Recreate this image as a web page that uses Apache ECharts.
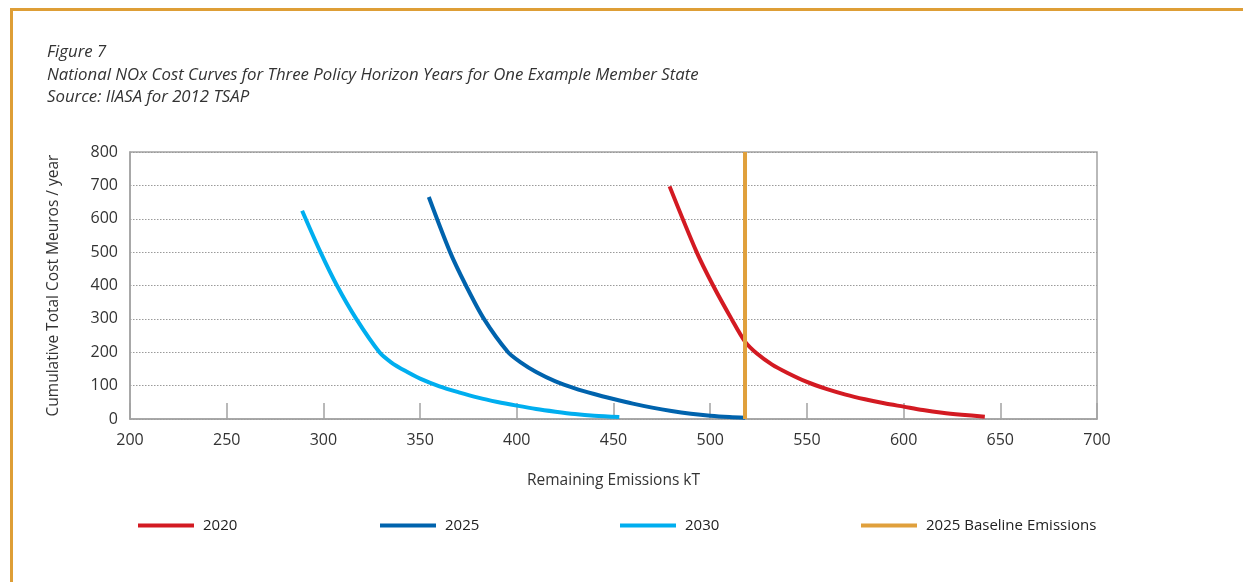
<!DOCTYPE html>
<html>
<head>
<meta charset="utf-8">
<script src="https://cdn.jsdelivr.net/npm/echarts@6/dist/echarts.min.js"></script>
<style>
html,body{margin:0;padding:0;background:#fff;}
#chart{width:1243px;height:582px;}
</style>
</head>
<body>
<div id="chart"></div>
<script>
// ---- data ----
const titleLines = [
  'Figure 7',
  'National NOx Cost Curves for Three Policy Horizon Years for One Example Member State',
  'Source: IIASA for 2012 TSAP'
];
const seriesNames = ['2020', '2025', '2030', '2025 Baseline Emissions'];

const emissions2020 = [479, 493, 501.5, 511, 518, 524, 532, 540, 550, 560, 570, 580, 590, 600, 610, 620, 630, 642];
const cost2020      = [697, 500, 400, 300, 232, 197, 163, 138, 111, 90, 73, 59, 47, 37, 27, 19, 13, 7];

const emissions2025 = [354.5, 365.5, 373.7, 383, 395.5, 402, 410, 420, 430, 440, 450, 460, 470, 480, 490, 500, 510, 518];
const cost2025      = [665, 500, 400, 300, 200, 170, 141, 113, 92, 75, 60, 46, 34, 24, 16, 10, 6, 4];

const emissions2030 = [289, 298.5, 307, 317, 329, 335, 342, 350, 360, 370, 380, 390, 400, 410, 420, 430, 440, 453];
const cost2030      = [624, 500, 400, 300, 200, 170, 145, 121, 98, 80, 64, 51, 40, 30, 22, 15, 10, 6];

const baselineEmissions = [518, 518];
const baselineCost      = [0, 800];

const xTicks = {min: 200, max: 700, interval: 50};
const yTicks = {min: 0, max: 800, interval: 100};

function pairs(xs, ys){ return xs.map((x, i) => [x, ys[i]]); }

const colors = ['#D31A22', '#0063AD', '#00AEEF', '#E0A03C'];
const font = 'Open Sans, Noto Sans, sans-serif';

const chart = echarts.init(document.getElementById('chart'), null, {renderer: 'canvas'});

function legendAt(name, left){
  return {
    data: [name], left: left, top: 513,
    icon: 'rect', itemWidth: 56, itemHeight: 4, itemGap: 0,
    textStyle: {fontFamily: font, fontSize: 15, color: '#222', padding: [0,0,0,4]}
  };
}

function curve(i, xs, ys){
  return {name: seriesNames[i], type: 'line', data: pairs(xs, ys), smooth: 0.3,
    symbol: 'none', lineStyle: {color: colors[i], width: 4, join: 'round', cap: 'butt'}, itemStyle: {color: colors[i]}, z: 3};
}

chart.setOption({
  animation: false,
  backgroundColor: '#fff',
  title: {
    text: titleLines.join('\n'),
    left: 47, top: 41, padding: 0,
    textStyle: {fontFamily: font, fontStyle: 'italic', fontWeight: 'normal', fontSize: 16.8, lineHeight: 22.5, color: '#333'}
  },
  legend: [
    legendAt(seriesNames[0], 133),
    legendAt(seriesNames[1], 375),
    legendAt(seriesNames[2], 615),
    legendAt(seriesNames[3], 856)
  ],
  grid: {
    left: 130, right: 146, top: 152, bottom: 163,
    show: true, borderColor: '#a3a3a3', borderWidth: 1.5
  },
  xAxis: {
    type: 'value', min: xTicks.min, max: xTicks.max, interval: xTicks.interval,
    name: 'Remaining Emissions kT', nameLocation: 'middle', nameGap: 54,
    nameTextStyle: {fontFamily: font, fontSize: 15.5, color: '#333'},
    axisLine: {show: true, lineStyle: {color: '#a3a3a3', width: 1.5}},
    axisTick: {show: true, inside: true, length: 16, lineStyle: {color: '#a3a3a3', width: 1.5}},
    axisLabel: {fontFamily: font, fontSize: 16, color: '#333', margin: 13},
    splitLine: {show: false}
  },
  yAxis: {
    type: 'value', min: yTicks.min, max: yTicks.max, interval: yTicks.interval,
    name: 'Cumulative Total Cost Meuros / year', nameLocation: 'middle', nameGap: 68,
    nameTextStyle: {fontFamily: font, fontSize: 15.5, color: '#333'},
    axisLine: {show: true, lineStyle: {color: '#a3a3a3', width: 1.5}},
    axisTick: {show: false},
    axisLabel: {fontFamily: font, fontSize: 16, color: '#333', margin: 12},
    splitLine: {show: true, lineStyle: {color: '#9a9a9a', width: 1, type: [1.5, 1.5]}}
  },
  graphic: [
    {type: 'rect', shape: {x: 10, y: 8, width: 1233, height: 3}, style: {fill: '#DE9E36'}, silent: true},
    {type: 'rect', shape: {x: 10, y: 8, width: 3, height: 574}, style: {fill: '#DE9E36'}, silent: true}
  ],
  series: [
    curve(0, emissions2020, cost2020),
    curve(1, emissions2025, cost2025),
    curve(2, emissions2030, cost2030),
    {name: seriesNames[3], type: 'line', data: pairs(baselineEmissions, baselineCost), symbol: 'none', lineStyle: {color: colors[3], width: 4}, itemStyle: {color: colors[3]}, z: 4}
  ]
});
</script>
</body>
</html>
